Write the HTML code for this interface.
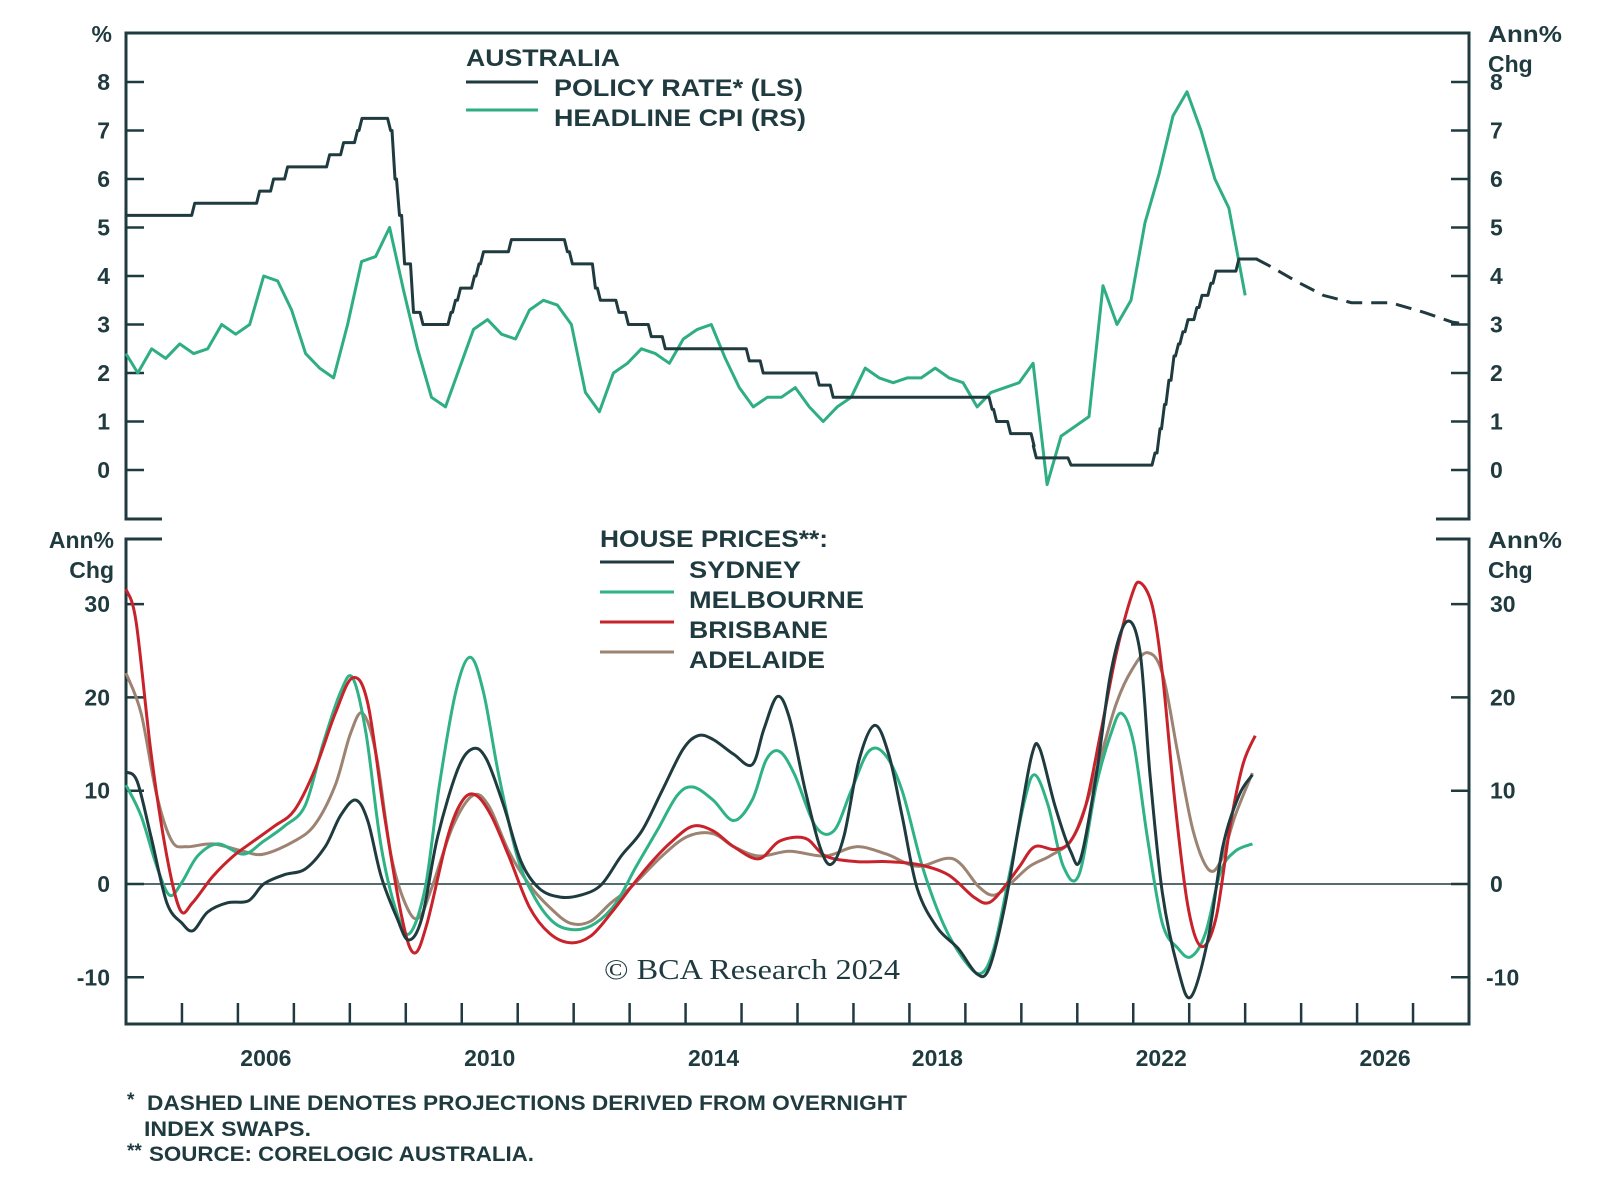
<!DOCTYPE html>
<html><head><meta charset="utf-8"><style>
html,body{margin:0;padding:0;background:#fff;}
svg{display:block;}
text{font-family:"Liberation Sans",sans-serif;font-weight:bold;fill:#1f3b3f;}
</style></head><body>
<svg id="chart" width="1600" height="1188" viewBox="0 0 1600 1188" xmlns="http://www.w3.org/2000/svg">
<g id="frame" stroke="#1f3b3f" stroke-width="3" fill="none">
  <path d="M162,519 H126 V33 H1469 V519 H1436"/>
  <path d="M162,539 H126 V1024 H1469 V539 H1436"/>
</g>
<line x1="126" x2="1469" y1="884" y2="884" stroke="#1f3b3f" stroke-width="1.5"/>
<g id="axes"></g>
<g id="series"></g>

<text x="112" y="42" font-size="23" text-anchor="end">%</text>
<text x="1488" y="42" font-size="23" textLength="74" lengthAdjust="spacingAndGlyphs">Ann%</text>
<text x="1488" y="72" font-size="23">Chg</text>
<text x="114" y="548" font-size="23" text-anchor="end">Ann%</text>
<text x="114" y="578" font-size="23" text-anchor="end">Chg</text>
<text x="1488" y="548" font-size="23" textLength="74" lengthAdjust="spacingAndGlyphs">Ann%</text>
<text x="1488" y="578" font-size="23">Chg</text>

<g>
  <text x="466" y="66" font-size="24" textLength="154" lengthAdjust="spacingAndGlyphs">AUSTRALIA</text>
  <line x1="466" x2="538" y1="82" y2="82" stroke="#1f3b3f" stroke-width="3"/>
  <text x="554" y="96" font-size="24" textLength="249" lengthAdjust="spacingAndGlyphs">POLICY RATE* (LS)</text>
  <line x1="466" x2="538" y1="110" y2="110" stroke="#2fae82" stroke-width="3"/>
  <text x="554" y="126" font-size="24" textLength="252" lengthAdjust="spacingAndGlyphs">HEADLINE CPI (RS)</text>
</g>
<g>
  <text x="600" y="547" font-size="24" textLength="228" lengthAdjust="spacingAndGlyphs">HOUSE PRICES**:</text>
  <line x1="600" x2="674" y1="562" y2="562" stroke="#1f3b3f" stroke-width="3"/>
  <text x="689" y="578" font-size="24" textLength="112" lengthAdjust="spacingAndGlyphs">SYDNEY</text>
  <line x1="600" x2="674" y1="592" y2="592" stroke="#2fb286" stroke-width="3"/>
  <text x="689" y="608" font-size="24" textLength="175" lengthAdjust="spacingAndGlyphs">MELBOURNE</text>
  <line x1="600" x2="674" y1="622" y2="622" stroke="#c8222b" stroke-width="3"/>
  <text x="689" y="638" font-size="24" textLength="139" lengthAdjust="spacingAndGlyphs">BRISBANE</text>
  <line x1="600" x2="674" y1="652" y2="652" stroke="#9c8372" stroke-width="3"/>
  <text x="689" y="668" font-size="24" textLength="136" lengthAdjust="spacingAndGlyphs">ADELAIDE</text>
</g>
<text x="604" y="979" font-size="28" textLength="296" lengthAdjust="spacingAndGlyphs" style="font-family:'Liberation Serif',serif;font-weight:normal">© BCA Research 2024</text>

<g>
  <text x="127" y="1106" font-size="19">*</text>
  <text x="147" y="1110" font-size="21" textLength="760" lengthAdjust="spacingAndGlyphs">DASHED LINE DENOTES PROJECTIONS DERIVED FROM OVERNIGHT</text>
  <text x="144" y="1136" font-size="21" textLength="167" lengthAdjust="spacingAndGlyphs">INDEX SWAPS.</text>
  <text x="127" y="1157" font-size="19">**</text>
  <text x="149" y="1161" font-size="21" textLength="385" lengthAdjust="spacingAndGlyphs">SOURCE: CORELOGIC AUSTRALIA.</text>
</g>
</svg>
<script>
const xTickYears = [2005,2006,2007,2008,2009,2010,2011,2012,2013,2014,2015,2016,2017,2018,2019,2020,2021,2022,2023,2024,2025,2026,2027];
const xLabelYears = [2006,2010,2014,2018,2022,2026];
const topTicks = [0,1,2,3,4,5,6,7,8];
const bottomTicks = [-10,0,10,20,30];

const policyDates = [2004.0,2005.21,2006.37,2006.62,2006.87,2007.62,2007.87,2008.12,2008.2,2008.71,2008.79,2008.87,2008.96,2009.12,2009.29,2009.79,2009.87,2009.96,2010.21,2010.29,2010.37,2010.87,2011.87,2011.96,2012.37,2012.46,2012.79,2012.96,2013.37,2013.62,2015.12,2015.37,2016.37,2016.62,2019.46,2019.54,2019.79,2020.21,2020.25,2020.87,2022.37,2022.46,2022.54,2022.62,2022.71,2022.79,2022.87,2022.96,2023.12,2023.21,2023.37,2023.46,2023.87,2024.2];
const policyRates = [5.25,5.5,5.75,6.0,6.25,6.5,6.75,7.0,7.25,7.0,6.0,5.25,4.25,3.25,3.0,3.25,3.5,3.75,4.0,4.25,4.5,4.75,4.5,4.25,3.75,3.5,3.25,3.0,2.75,2.5,2.25,2.0,1.75,1.5,1.25,1.0,0.75,0.5,0.25,0.1,0.35,0.85,1.35,1.85,2.35,2.6,2.85,3.1,3.35,3.6,3.85,4.1,4.35,4.35];
const projDates = [2024.2,2024.45,2024.9,2025.4,2025.9,2026.6,2027.2,2027.7,2028.0];
const projRates = [4.35,4.2,3.9,3.6,3.45,3.45,3.25,3.05,3.0];

const cpiDates = [2004.0,2004.21,2004.46,2004.71,2004.96,2005.21,2005.46,2005.71,2005.96,2006.21,2006.46,2006.71,2006.96,2007.21,2007.46,2007.71,2007.96,2008.21,2008.46,2008.71,2008.96,2009.21,2009.46,2009.71,2009.96,2010.21,2010.46,2010.71,2010.96,2011.21,2011.46,2011.71,2011.96,2012.21,2012.46,2012.71,2012.96,2013.21,2013.46,2013.71,2013.96,2014.21,2014.46,2014.71,2014.96,2015.21,2015.46,2015.71,2015.96,2016.21,2016.46,2016.71,2016.96,2017.21,2017.46,2017.71,2017.96,2018.21,2018.46,2018.71,2018.96,2019.21,2019.46,2019.71,2019.96,2020.21,2020.46,2020.71,2020.96,2021.21,2021.46,2021.71,2021.96,2022.21,2022.46,2022.71,2022.96,2023.21,2023.46,2023.71,2024.0];
const cpiValues = [2.4,2.0,2.5,2.3,2.6,2.4,2.5,3.0,2.8,3.0,4.0,3.9,3.3,2.4,2.1,1.9,3.0,4.3,4.4,5.0,3.7,2.5,1.5,1.3,2.1,2.9,3.1,2.8,2.7,3.3,3.5,3.4,3.0,1.6,1.2,2.0,2.2,2.5,2.4,2.2,2.7,2.9,3.0,2.3,1.7,1.3,1.5,1.5,1.7,1.3,1.0,1.3,1.5,2.1,1.9,1.8,1.9,1.9,2.1,1.9,1.8,1.3,1.6,1.7,1.8,2.2,-0.3,0.7,0.9,1.1,3.8,3.0,3.5,5.1,6.1,7.3,7.8,7.0,6.0,5.4,3.6];

const sydDates = [2004.0,2004.2,2004.45,2004.73,2005.0,2005.2,2005.46,2005.82,2006.19,2006.46,2006.83,2007.2,2007.56,2007.83,2008.1,2008.32,2008.56,2008.84,2009.05,2009.29,2009.57,2009.93,2010.2,2010.44,2010.75,2011.06,2011.39,2011.76,2012.12,2012.49,2012.85,2013.22,2013.58,2013.95,2014.22,2014.49,2014.86,2015.19,2015.4,2015.64,2015.86,2016.14,2016.4,2016.6,2016.83,2017.1,2017.38,2017.63,2017.87,2018.14,2018.5,2018.87,2019.2,2019.42,2019.7,2019.97,2020.19,2020.33,2020.6,2020.88,2021.06,2021.34,2021.6,2021.88,2022.12,2022.3,2022.52,2022.8,2023.03,2023.34,2023.6,2023.89,2024.13];
const sydValues = [12,11,5,-2,-4.2,-5,-3,-2,-1.8,0,1,1.6,4,7.3,9,6.8,0.8,-3.6,-6,-3.6,5.1,12.3,14.5,13.4,8.4,2.4,-0.5,-1.4,-1.2,-0.1,3,5.7,10,14.4,15.9,15.5,13.9,12.8,16.6,20.1,17.7,10,4,2.1,5.1,13.3,17,13.9,7.3,-0.5,-4.7,-6.9,-9.6,-9.1,-2.5,6.8,13.9,14.5,8.4,3.5,2.7,11.7,22.7,28.1,24.9,11.7,-0.9,-9.1,-12.1,-5.8,4,9.5,11.7];

const melDates = [2004.0,2004.27,2004.55,2004.78,2005.0,2005.28,2005.64,2006.1,2006.46,2006.83,2007.2,2007.52,2007.83,2008.05,2008.29,2008.56,2008.84,2009.07,2009.35,2009.6,2009.89,2010.15,2010.39,2010.66,2010.99,2011.3,2011.66,2012.03,2012.39,2012.76,2013.12,2013.49,2013.85,2014.13,2014.49,2014.86,2015.19,2015.44,2015.68,2015.95,2016.32,2016.65,2016.96,2017.27,2017.56,2017.87,2018.23,2018.6,2018.96,2019.27,2019.51,2019.78,2020.06,2020.24,2020.48,2020.75,2021.03,2021.34,2021.6,2021.79,2022.01,2022.25,2022.52,2022.8,2023.03,2023.29,2023.56,2023.82,2024.13];
const melValues = [10.6,7.3,1.9,-1.2,0.2,3,4.3,3.2,4.6,6.2,8.4,15,20.5,22.1,16.1,4,-3.1,-5.3,-0.3,10.6,20.5,24.3,20.5,11.7,3,-1.4,-4.2,-4.9,-4.2,-2,1.9,5.7,9.5,10.4,9,6.8,9,13.3,14.2,11.7,6.2,5.7,10,14.2,13.9,10,1.9,-4.2,-8,-9.6,-6.9,0.8,9,11.7,8.4,1.9,1,10.6,16.1,18.3,15,5.1,-4.2,-6.9,-7.8,-5.3,1.3,3.5,4.3];

const brisDates = [2004.0,2004.18,2004.45,2004.73,2004.97,2005.19,2005.55,2005.92,2006.28,2006.65,2007.01,2007.38,2007.74,2008.05,2008.32,2008.62,2008.93,2009.15,2009.38,2009.75,2010.02,2010.26,2010.53,2010.84,2011.21,2011.57,2011.94,2012.3,2012.67,2013.03,2013.4,2013.76,2014.13,2014.49,2014.86,2015.31,2015.68,2016.14,2016.5,2017.05,2017.59,2018.14,2018.69,2019.15,2019.42,2019.7,2019.97,2020.24,2020.6,2020.88,2021.15,2021.43,2021.7,2021.97,2022.12,2022.34,2022.52,2022.74,2022.98,2023.22,2023.48,2023.73,2023.96,2024.18];
const brisValues = [31.6,28.1,13.9,3,-2.8,-2,0.8,3,4.6,6.2,7.9,12.3,18.3,22.1,19.4,7.3,-3.6,-7.4,-4.2,5.1,9,9.5,7.3,3,-2.5,-5.3,-6.3,-5.6,-3.1,-0.3,2.4,4.6,6.2,5.7,4,2.7,4.6,4.9,3,2.4,2.4,2.1,1,-1.4,-2,-0.3,1.9,4,3.7,4.6,8.4,16.6,24.8,30.9,32.3,29.8,22.6,9,-2.5,-6.7,-3.6,6.2,12.8,15.9];

const adlDates = [2004.0,2004.27,2004.55,2004.82,2005.09,2005.55,2006.1,2006.46,2007.01,2007.38,2007.74,2008.01,2008.23,2008.47,2008.74,2009.02,2009.24,2009.47,2009.84,2010.2,2010.48,2010.84,2011.21,2011.57,2011.94,2012.3,2012.67,2013.03,2013.58,2014.04,2014.49,2014.86,2015.31,2015.86,2016.5,2017.05,2017.59,2018.14,2018.78,2019.24,2019.51,2019.78,2020.15,2020.51,2020.88,2021.15,2021.43,2021.7,2021.97,2022.25,2022.52,2022.8,2023.07,2023.34,2023.56,2023.82,2024.13];
const adlValues = [22.6,18.3,9.5,4.6,4,4.3,3.5,3.2,4.6,6.4,10.6,16.1,18.3,13.9,3,-2.5,-3.6,-0.3,6.2,9.5,8.4,3.5,-0.1,-2.5,-4.2,-4,-2,-0.3,3,5.1,5.4,4,3,3.5,3,4,3.2,1.9,2.7,-0.3,-1.2,-0.1,1.9,3,4.6,8.4,13.9,19.4,22.9,24.8,22.6,13.9,5.7,1.6,2.4,7.3,11.9];

const NS='http://www.w3.org/2000/svg';
const X0=126, X1=1469, Y0=2004, Y1=2028;
const xs = y => X0 + (y - Y0) * (X1 - X0) / (Y1 - Y0);
const yTop = v => 470 - v * 48.5;
const yBot = v => 884 - v * 9.33;
const axes=document.getElementById('axes');
const ser=document.getElementById('series');
function mk(tag, attrs, parent){const e=document.createElementNS(NS,tag);for(const k in attrs)e.setAttribute(k,attrs[k]);parent.appendChild(e);return e;}

xTickYears.forEach(yr=>{
  const l=mk('line',{x1:xs(yr),x2:xs(yr),y1:1024,y2:1003,stroke:'#1f3b3f','stroke-width':2.5},axes);
  
  
});
xLabelYears.forEach(yr=>{
  const t=mk('text',{x:xs(yr+0.5),y:1066,'font-size':23,'text-anchor':'middle'},axes);
  t.textContent=yr;
  
  
});
function yTicks(vals, fy){
  vals.forEach(v=>{
    const y=fy(v);
    const a=mk('line',{x1:126,x2:144,y1:y,y2:y,stroke:'#1f3b3f','stroke-width':2.5},axes);
    
    
    const b=mk('line',{x1:1451,x2:1469,y1:y,y2:y,stroke:'#1f3b3f','stroke-width':2.5},axes);
    
    
    const t1=mk('text',{x:110,y:y+8,'font-size':23,'text-anchor':'end'},axes);
    t1.textContent=v;
    
    
    const t2=mk('text',{x:(v<0?1486:1490),y:y+8,'font-size':23},axes);
    t2.textContent=v;
    
    
  });
}
yTicks(topTicks,yTop);
yTicks(bottomTicks,yBot);

function smoothPath(dates, vals, fy){
  const p=dates.map((d,i)=>[xs(d),fy(vals[i])]);
  let s='M'+p[0][0].toFixed(1)+','+p[0][1].toFixed(1);
  for(let i=0;i<p.length-1;i++){
    const p0=p[i-1]||p[i], p1=p[i], p2=p[i+1], p3=p[i+2]||p2;
    const c1=[p1[0]+(p2[0]-p0[0])/6, p1[1]+(p2[1]-p0[1])/6];
    const c2=[p2[0]-(p3[0]-p1[0])/6, p2[1]-(p3[1]-p1[1])/6];
    s+=' C'+c1.map(n=>n.toFixed(1)).join(',')+' '+c2.map(n=>n.toFixed(1)).join(',')+' '+p2.map(n=>n.toFixed(1)).join(',');
  }
  return s;
}
function linePath(dates, vals, fy){
  return dates.map((d,i)=>(i?'L':'M')+xs(d).toFixed(1)+','+fy(vals[i]).toFixed(1)).join(' ');
}
function stepPath(dates, vals, fy){
  let s='M'+xs(dates[0]).toFixed(1)+','+fy(vals[0]).toFixed(1);
  for(let i=1;i<dates.length;i++){
    s+=' L'+(xs(dates[i])-2).toFixed(1)+','+fy(vals[i-1]).toFixed(1)+' L'+(xs(dates[i])+1).toFixed(1)+','+fy(vals[i]).toFixed(1);
  }
  return s;
}

const cpi=mk('path',{d:linePath(cpiDates,cpiValues,yTop),fill:'none',stroke:'#2fae82','stroke-width':3,'stroke-linejoin':'round'},ser);


const pol=mk('path',{d:stepPath(policyDates,policyRates,yTop),fill:'none',stroke:'#1f3b3f','stroke-width':3,'stroke-linejoin':'round'},ser);


const proj=mk('path',{d:linePath(projDates,projRates,yTop),fill:'none',stroke:'#1f3b3f','stroke-width':3,'stroke-dasharray':'16,9'},ser);



const adl=mk('path',{d:smoothPath(adlDates,adlValues,yBot),fill:'none',stroke:'#9c8372','stroke-width':3},ser);


const mel=mk('path',{d:smoothPath(melDates,melValues,yBot),fill:'none',stroke:'#2fb286','stroke-width':3},ser);


const bri=mk('path',{d:smoothPath(brisDates,brisValues,yBot),fill:'none',stroke:'#c8222b','stroke-width':3},ser);


const syd=mk('path',{d:smoothPath(sydDates,sydValues,yBot),fill:'none',stroke:'#1f3b3f','stroke-width':3},ser);


</script>
</body></html>
